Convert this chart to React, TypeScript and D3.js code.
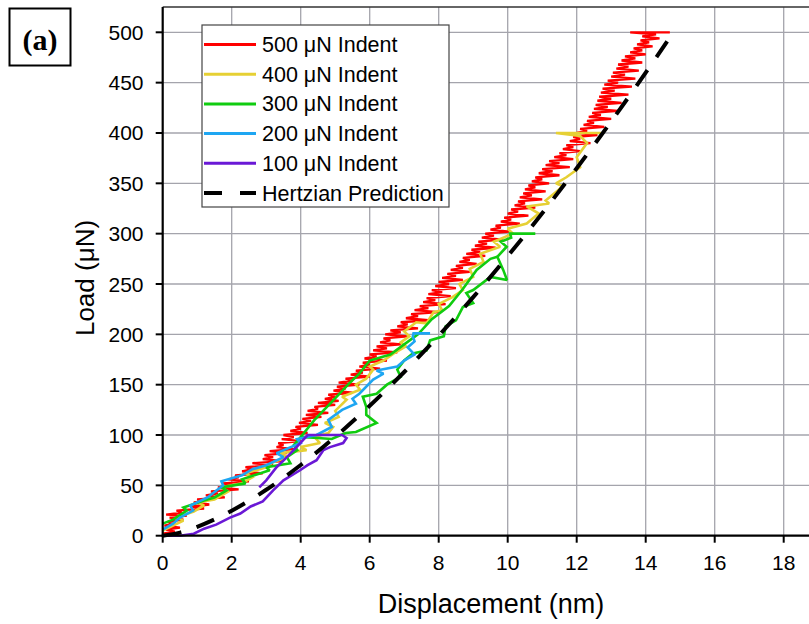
import React from 'react';
import * as d3 from 'd3';

type Pt = [number, number];

const X_TICKS = [0, 2, 4, 6, 8, 10, 12, 14, 16, 18];
const Y_TICKS = [0, 50, 100, 150, 200, 250, 300, 350, 400, 450, 500];

const LEGEND_LABELS = ['500 μN Indent', '400 μN Indent', '300 μN Indent', '200 μN Indent', '100 μN Indent', 'Hertzian Prediction'];

const red500: Pt[] = [
  [0.0, 2], [0.35, 4], [0.1, 6], [0.5, 8], [0.05, 10], [0.3, 12], [0.15, 14], [0.6, 16], [0.2, 18], [0.7, 20],
  [0.1, 21], [0.55, 23], [0.4, 25], [1.2, 27], [0.85, 29], [1.35, 31], [0.9, 33], [1.15, 34], [1.0, 36], [1.8, 38],
  [1.25, 40], [1.6, 42], [1.4, 44], [2.2, 46], [1.6, 48], [2.0, 50], [1.75, 52], [2.5, 54], [1.9, 56], [2.2, 58],
  [2.1, 60], [2.9, 62], [2.3, 64], [2.6, 66], [2.4, 68], [3.2, 70], [2.6, 72], [3.5, 74], [2.9, 76], [3.2, 78],
  [2.95, 80], [3.6, 82], [3.1, 84], [3.8, 86], [3.3, 88], [3.5, 90], [3.35, 92], [4.0, 94], [3.45, 96], [3.8, 98],
  [3.5, 100], [4.2, 102], [3.7, 104], [4.0, 106], [3.85, 108], [4.5, 110], [3.95, 112], [4.3, 114], [4.05, 116], [4.6, 118],
  [4.15, 120], [4.8, 122], [4.2, 124], [4.5, 126], [4.4, 128], [5.0, 130], [4.5, 132], [5.1, 134], [4.7, 136], [5.0, 138],
  [4.8, 140], [5.5, 142], [4.95, 144], [5.3, 146], [5.05, 148], [5.7, 150], [5.1, 152], [5.5, 154], [5.3, 156], [6.0, 158],
  [5.45, 160], [5.8, 162], [5.6, 164], [6.3, 166], [5.7, 168], [6.0, 170], [5.8, 172], [6.5, 174], [5.85, 176], [6.2, 178],
  [6.0, 180], [6.8, 182], [6.1, 184], [6.5, 186], [6.2, 188], [6.9, 190], [6.3, 192], [6.6, 194], [6.4, 196], [7.1, 198],
  [6.45, 200], [6.9, 202], [6.6, 204], [7.4, 206], [6.8, 208], [7.1, 210], [6.9, 212], [7.7, 214], [7.05, 216], [7.4, 218],
  [7.2, 220], [8.0, 222], [7.3, 224], [7.7, 226], [7.45, 228], [8.2, 230], [7.55, 232], [7.9, 234], [7.65, 236], [8.35, 238],
  [7.7, 240], [8.1, 242], [7.8, 244], [8.5, 246], [7.9, 248], [8.3, 250], [8.0, 252], [8.7, 254], [8.1, 256], [8.5, 258],
  [8.25, 260], [8.9, 262], [8.35, 264], [8.7, 266], [8.5, 268], [9.1, 270], [8.6, 272], [8.9, 274], [8.7, 276], [9.35, 278],
  [8.8, 280], [9.2, 282], [8.95, 284], [9.65, 286], [9.05, 288], [9.4, 290], [9.15, 292], [9.85, 294], [9.25, 296], [9.6, 298],
  [9.35, 300], [10.05, 302], [9.5, 304], [9.8, 306], [9.65, 308], [10.35, 310], [9.8, 312], [10.1, 314], [9.9, 316], [10.6, 318],
  [10.0, 320], [10.3, 322], [10.1, 324], [10.8, 326], [10.2, 328], [10.5, 330], [10.3, 332], [11.0, 334], [10.35, 336], [10.7, 338],
  [10.45, 340], [11.1, 342], [10.5, 344], [10.8, 346], [10.6, 348], [11.2, 350], [10.7, 352], [11.0, 354], [10.8, 356], [11.5, 358],
  [10.9, 360], [11.3, 362], [11.0, 364], [11.8, 366], [11.1, 368], [11.5, 370], [11.2, 372], [11.9, 374], [11.35, 376], [11.7, 378],
  [11.5, 380], [12.1, 382], [11.6, 384], [11.9, 386], [11.7, 388], [12.4, 390], [11.8, 392], [12.1, 394], [11.9, 396], [12.6, 398],
  [12.0, 400], [12.3, 402], [12.1, 404], [12.8, 406], [12.2, 408], [12.5, 410], [12.3, 412], [13.0, 414], [12.35, 416], [12.7, 418],
  [12.45, 420], [13.2, 422], [12.5, 424], [12.9, 426], [12.55, 428], [13.3, 430], [12.6, 432], [13.0, 434], [12.65, 436], [13.5, 438],
  [12.7, 440], [13.1, 442], [12.75, 444], [13.6, 446], [12.8, 448], [13.2, 450], [12.9, 452], [13.7, 454], [13.0, 456], [13.4, 458],
  [13.05, 460], [13.8, 462], [13.15, 464], [13.5, 466], [13.2, 468], [13.9, 470], [13.3, 472], [13.7, 474], [13.4, 476], [14.0, 478],
  [13.55, 480], [13.9, 482], [13.65, 484], [14.2, 486], [13.75, 488], [14.1, 490], [13.85, 492], [14.4, 494], [13.9, 496], [14.3, 498],
  [13.55, 500], [14.7, 500],
];

const yellow400: Pt[] = [
  [0.0, 5], [0.3, 10], [0.6, 15], [0.4, 18], [0.9, 24], [1.2, 30], [1.0, 33], [1.5, 36], [1.9, 44], [1.7, 48],
  [2.3, 52], [2.6, 58], [2.4, 62], [3.0, 68], [3.2, 73], [3.6, 78], [3.4, 82], [4.17, 85], [4.0, 88], [4.56, 92],
  [4.4, 98], [4.8, 102], [4.94, 108], [4.7, 112], [5.1, 118], [5.0, 124], [5.33, 135], [5.2, 138], [5.72, 145], [5.6, 150],
  [5.9, 156], [6.1, 165], [6.0, 168], [6.4, 174], [6.7, 181], [7.05, 188], [6.9, 192], [7.15, 198], [7.0, 203], [7.35, 212],
  [7.65, 211], [7.85, 222], [8.1, 224], [8.0, 230], [8.4, 237], [8.7, 244], [8.6, 250], [9.0, 257], [8.9, 265], [9.3, 272],
  [9.2, 280], [9.78, 287], [9.6, 292], [10.15, 300], [10.0, 305], [10.55, 310], [10.9, 320], [10.55, 327], [11.2, 330], [11.1, 333],
  [11.6, 347], [11.4, 350], [11.7, 356], [12.1, 366], [12.0, 376], [12.3, 390], [12.1, 397], [11.4, 400], [12.7, 400],
];

const green300: Pt[] = [
  [0.0, 12], [0.3, 16], [0.7, 25], [0.6, 28], [1.2, 35], [1.5, 38], [1.85, 45], [1.7, 48], [2.4, 52], [2.3, 56],
  [3.1, 65], [3.0, 68], [3.7, 72], [3.6, 78], [3.9, 85], [3.8, 90], [4.0, 98], [4.5, 97], [4.9, 96], [5.3, 102],
  [5.6, 103], [6.2, 112], [5.9, 120], [5.9, 128], [5.8, 138], [6.2, 141], [6.5, 150], [6.9, 158], [6.8, 165], [7.0, 174],
  [7.25, 181], [7.65, 184], [7.75, 194], [8.15, 198], [8.2, 208], [8.5, 214], [8.7, 227], [9.0, 231], [8.8, 241], [9.0, 244],
  [9.5, 257], [9.98, 254], [9.87, 264], [9.7, 277], [9.97, 287], [9.8, 292], [10.1, 296], [10.07, 300], [10.8, 300],
];

const green300Branch: Pt[] = [
  [4.0, 98], [4.4, 115], [4.9, 133], [5.4, 151], [5.7, 161], [6.0, 174], [6.6, 180], [7.0, 190], [7.4, 200], [7.8, 215],
  [8.3, 228], [8.7, 245], [9.1, 264], [9.5, 275], [9.7, 277],
];

const blue200: Pt[] = [
  [0.0, 6], [0.3, 12], [0.5, 18], [0.88, 25], [0.8, 30], [1.3, 38], [1.75, 50], [1.7, 54], [2.3, 60], [2.6, 66],
  [3.0, 70], [3.5, 78], [3.3, 82], [4.0, 92], [3.9, 96], [4.46, 100], [4.9, 108], [4.8, 115], [5.2, 125], [5.6, 131],
  [5.5, 136], [5.7, 141], [6.1, 155], [6.4, 161], [6.2, 164], [6.8, 168], [7.0, 174], [7.3, 180], [7.1, 187], [7.3, 193],
  [7.25, 198], [7.27, 201], [7.75, 201],
];

const purple100: Pt[] = [
  [0.1, 0], [0.5, 0], [0.9, 2], [1.2, 7], [1.55, 11], [1.95, 18], [2.25, 22], [2.55, 29], [2.9, 34], [3.2, 45],
  [3.5, 55], [3.98, 65], [4.2, 70], [4.46, 75], [4.66, 85], [4.85, 88], [5.23, 92], [5.33, 97], [5.2, 100], [4.2, 100],
  [3.88, 88], [3.6, 78], [3.3, 68], [3.0, 55], [2.8, 48],
];

const hertzian: Pt[] = [
  [0, 0], [0.5, 3.1], [1, 8.8], [1.5, 16.1], [2, 24.8], [3, 45.6], [4, 70.2], [5, 98.2], [6, 129], [7, 162.6],
  [8, 198.7], [9, 237], [10, 277.6], [11, 320.3], [12, 365], [13, 411.5], [14, 459.9], [14.8, 500],
];

const COLORS = ['#ff0000', '#e6d034', '#10cc10', '#1ea6f2', '#6a18d6', '#000000'];

export default function App() {
  const W = 809;
  const H = 624;
  const left = 162.7;
  const top = 7;
  const bottom = 535.7;
  const x = d3.scaleLinear().domain([0, 19]).range([left, left + 19 * 34.5]);
  const y = d3.scaleLinear().domain([0, 500]).range([bottom, 32.3]);
  const yTop = top;

  const line = d3.line<Pt>().x((d) => x(d[0])).y((d) => y(d[1]));
  const smooth = d3.line<Pt>().x((d) => x(d[0])).y((d) => y(d[1])).curve(d3.curveMonotoneX);

  const series: { data: Pt[]; color: string; w: number }[] = [
    { data: red500, color: COLORS[0], w: 2.3 },
    { data: yellow400, color: COLORS[1], w: 2.6 },
    { data: green300Branch, color: COLORS[2], w: 2.6 },
    { data: green300, color: COLORS[2], w: 2.6 },
    { data: blue200, color: COLORS[3], w: 2.6 },
    { data: purple100, color: COLORS[4], w: 2.6 },
  ];

  const font = "'Liberation Sans', Arial, sans-serif";
  const legX = 202;
  const legY = 25;
  const rowH = 29.7;

  return (
    <svg width={W} height={H} style={{ position: 'absolute', left: 0, top: 0, background: '#fff' }}>
      <rect x={0} y={0} width={W} height={H} fill="#fff" />
      {X_TICKS.filter((t) => t > 0).map((t) => (
        <line key={'gx' + t} x1={x(t)} x2={x(t)} y1={bottom} y2={yTop} stroke="#a4a4ac" strokeWidth={1.3} />
      ))}
      {Y_TICKS.filter((t) => t > 0).map((t) => (
        <line key={'gy' + t} x1={left} x2={W + 5} y1={y(t)} y2={y(t)} stroke="#a4a4ac" strokeWidth={1.3} />
      ))}
      <line x1={left} x2={W + 5} y1={yTop} y2={yTop} stroke="#333" strokeWidth={1.5} />

      <g fill="none" strokeLinejoin="miter" strokeMiterlimit={2}>
        {series.map((s, i) => (
          <path key={i} d={line(s.data) || ''} stroke={s.color} strokeWidth={s.w} />
        ))}
        <path d={smooth(hertzian) || ''} stroke="#000" strokeWidth={4} strokeDasharray="19 16" />
      </g>

      <line x1={left} x2={left} y1={yTop} y2={bottom + 1} stroke="#000" strokeWidth={2.2} />
      <line x1={left - 1} x2={W + 5} y1={bottom} y2={bottom} stroke="#000" strokeWidth={2.2} />
      {Y_TICKS.map((t) => (
        <g key={'yt' + t}>
          <line x1={left - 7} x2={left} y1={y(t)} y2={y(t)} stroke="#000" strokeWidth={2} />
          <text x={143.5} y={y(t) + 7.5} textAnchor="end" fontFamily={font} fontSize={21} fill="#000">
            {t}
          </text>
        </g>
      ))}
      {X_TICKS.map((t) => (
        <g key={'xt' + t}>
          <line x1={x(t)} x2={x(t)} y1={bottom} y2={bottom + 7} stroke="#000" strokeWidth={2} />
          <text x={x(t)} y={570} textAnchor="middle" fontFamily={font} fontSize={21} fill="#000">
            {t}
          </text>
        </g>
      ))}
      <text x={491} y={613} textAnchor="middle" fontFamily={font} fontSize={27} fill="#000">
        Displacement (nm)
      </text>
      <text
        transform={`translate(93.5, 278) rotate(-90)`}
        textAnchor="middle"
        fontFamily={font}
        fontSize={26}
        fill="#000"
      >
        Load (μN)
      </text>

      <rect x={legX} y={legY} width={247} height={182} fill="#fff" stroke="#444" strokeWidth={1.2} />
      {LEGEND_LABELS.map((lab, i) => {
        const cy = legY + 19.5 + i * rowH;
        const isDash = i === 5;
        return (
          <g key={lab}>
            {isDash ? (
              <>
                <line x1={204} x2={222} y1={cy} y2={cy} stroke="#000" strokeWidth={4} />
                <line x1={240} x2={256} y1={cy} y2={cy} stroke="#000" strokeWidth={4} />
              </>
            ) : (
              <line x1={204} x2={256} y1={cy} y2={cy} stroke={COLORS[i]} strokeWidth={3} />
            )}
            <text x={262} y={cy + 7.5} fontFamily={font} fontSize={21.5} fill="#000">
              {lab}
            </text>
          </g>
        );
      })}

      <rect x={9.5} y={8.5} width={61} height={57} fill="#fff" stroke="#000" strokeWidth={2} />
      <text x={40} y={50} textAnchor="middle" fontFamily="'Liberation Serif', 'Times New Roman', serif" fontWeight="bold" fontSize={30} fill="#000">
        (a)
      </text>
    </svg>
  );
}
